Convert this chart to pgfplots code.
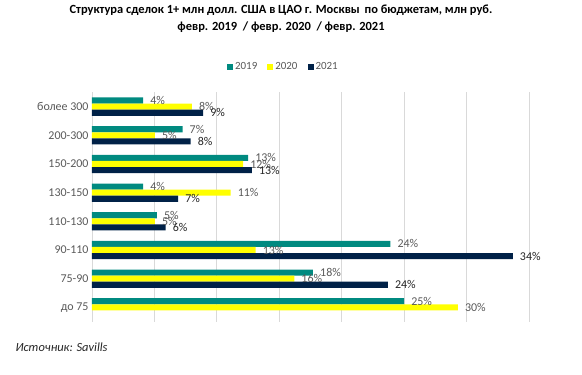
\documentclass[border=0pt]{standalone}
\usepackage{pgfplots}
\pgfplotsset{compat=1.18}
\usepackage{fontspec}
\setmainfont{Carlito}
\definecolor{cA}{HTML}{008A80}
\definecolor{cB}{HTML}{FFFF00}
\definecolor{cC}{HTML}{002147}
\definecolor{gridc}{HTML}{D9D9D9}
\definecolor{txtg}{HTML}{595959}
\definecolor{txtd}{HTML}{262626}
\begin{document}
\begin{tikzpicture}
\useasboundingbox (0,0) rectangle (582bp,375bp);
\node[align=center,font=\fontsize{12.5}{17}\selectfont\bfseries,text=black] at (281bp,356.5bp)
{Структура сделок 1+ млн долл. США в ЦАО г. Москвы\, по бюджетам, млн руб.\\
февр. 2019\ \ / февр. 2020\ \ / февр. 2021};
\node[anchor=west,font=\fontsize{12.5}{14}\selectfont\itshape,text=txtd] at (12bp,28bp) {Источник: Savills};
\begin{axis}[
  at={(92bp,53.3bp)}, anchor=south west,
  scale only axis, width=437bp, height=229.4bp,
  xbar, bar width=6.1bp,
  xmin=0, xmax=35, ymin=-0.5, ymax=7.5,
  xtick={0,5,...,35}, xticklabels={},
  xmajorgrids, grid style={gridc, line width=0.8pt},
  ytick={0,...,7},
  yticklabels={до 75,75-90,90-110,110-130,130-150,150-200,200-300,более 300},
  yticklabel style={font=\fontsize{12}{14}\selectfont, text=txtg},
  axis line style={draw=none},
  major tick length=0pt,
  point meta=explicit symbolic,
  nodes near coords,
  nodes near coords style={font=\fontsize{12}{14}\selectfont, anchor=west, inner sep=0pt, xshift=7bp},
  legend style={at={(0.438,1.11)}, anchor=center, draw=none, legend columns=3,
    font=\fontsize{11}{13}\selectfont, text=txtg,
    /tikz/every even column/.append style={column sep=8bp}},
  legend image code/.code={\fill[#1] (0bp,-3bp) rectangle (6bp,3bp);},
]
\addplot[fill=cA, draw=none, bar shift=6.1bp, nodes near coords style={text=txtg}] coordinates {
 (25,0) [25\%] (17.7,1) [18\%] (23.9,2) [24\%] (5.2,3) [5\%]
 (4.1,4) [4\%] (12.5,5) [13\%] (7.25,6) [7\%] (4.1,7) [4\%]};
\addplot[fill=cB, draw=none, bar shift=0bp, nodes near coords style={text=txtg}] coordinates {
 (29.3,0) [30\%] (16.2,1) [16\%] (13.1,2) [13\%] (5.04,3) [5\%]
 (11.1,4) [11\%] (12.1,5) [12\%] (5.04,6) [5\%] (8.0,7) [8\%]};
\addplot[fill=cC, draw=none, bar shift=-6.1bp, nodes near coords style={text=txtd}] coordinates {
 (23.7,1) [24\%] (33.7,2) [34\%] (5.9,3) [6\%]
 (6.9,4) [7\%] (12.8,5) [13\%] (7.9,6) [8\%] (8.9,7) [9\%]};
\legend{2019,2020,2021}
\end{axis}
\end{tikzpicture}
\end{document}
